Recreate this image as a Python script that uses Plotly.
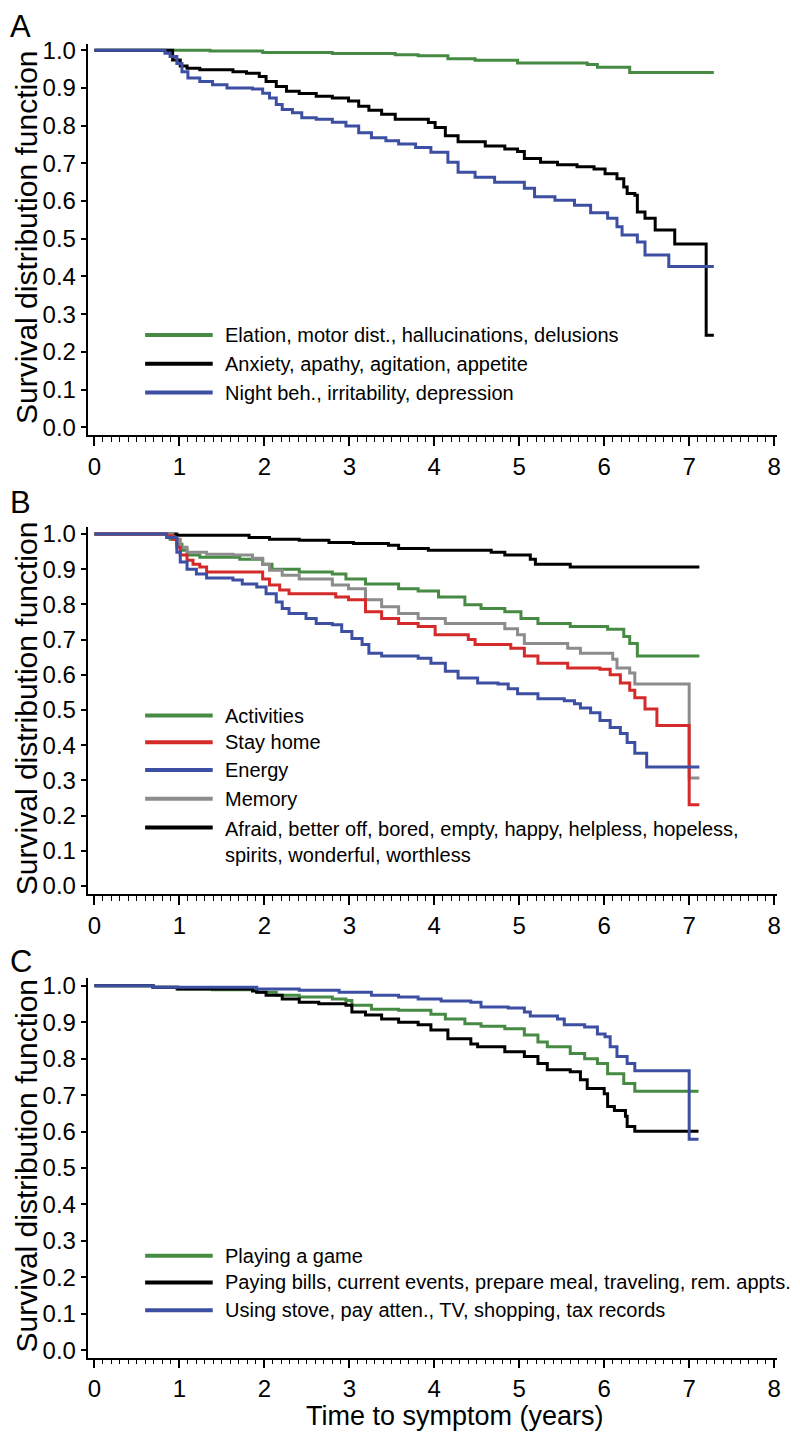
import plotly.graph_objects as go
from plotly.subplots import make_subplots

# page adds an 8px body margin, so the figure is drawn 8px in from the top-left
OFF = 8
W, H = 800 - OFF, 1441 - OFF

# ---- data: survival curves (time in years, survival) ----
# Panel A
a_green_t = [0, 1.36, 1.98, 2.8, 3.54, 3.81, 4.16, 4.48, 4.98, 5.8, 5.92, 6.3, 7.29]
a_green_s = [1.0, 0.998, 0.994, 0.991, 0.988, 0.985, 0.977, 0.973, 0.966, 0.962, 0.955, 0.941, 0.941]

a_black_t = [0, 0.92, 1.01, 1.09, 1.24, 1.63, 1.79, 1.94, 2.02, 2.14, 2.26, 2.41, 2.61, 2.8,
             2.99, 3.11, 3.23, 3.38, 3.54, 3.93, 4.01, 4.13, 4.28, 4.6, 4.83, 4.98, 5.06, 5.25,
             5.45, 5.68, 5.88, 6.01, 6.15, 6.23, 6.27, 6.36, 6.39, 6.48, 6.6, 6.83, 7.2, 7.29]
a_black_s = [1.0, 0.974, 0.958, 0.952, 0.948, 0.943, 0.939, 0.93, 0.917, 0.904, 0.891, 0.885,
             0.878, 0.873, 0.865, 0.851, 0.841, 0.83, 0.817, 0.808, 0.795, 0.773, 0.757, 0.746,
             0.738, 0.731, 0.713, 0.703, 0.696, 0.691, 0.685, 0.672, 0.659, 0.637, 0.62, 0.615,
             0.571, 0.554, 0.523, 0.486, 0.244, 0.244]

a_blue_t = [0, 0.83, 0.89, 0.97, 1.03, 1.1, 1.24, 1.39, 1.56, 1.86, 1.98, 2.06, 2.14, 2.21,
            2.33, 2.44, 2.61, 2.8, 2.96, 3.11, 3.26, 3.43, 3.58, 3.78, 3.96, 4.16, 4.28, 4.48,
            4.71, 5.06, 5.18, 5.42, 5.65, 5.84, 6.04, 6.15, 6.21, 6.39, 6.48, 6.76, 7.29]
a_blue_s = [1.0, 0.992, 0.983, 0.965, 0.943, 0.926, 0.917, 0.908, 0.9, 0.897, 0.886, 0.873,
            0.856, 0.843, 0.834, 0.821, 0.817, 0.809, 0.799, 0.781, 0.768, 0.76, 0.751, 0.742,
            0.729, 0.703, 0.676, 0.663, 0.65, 0.634, 0.611, 0.602, 0.589, 0.569, 0.554, 0.532,
            0.51, 0.491, 0.457, 0.426, 0.426]

# Panel B
b_green_t = [0, 0.89, 0.97, 1.03, 1.09, 1.24, 1.71, 1.98, 2.09, 2.41, 2.8, 2.96, 3.19, 3.58,
             3.81, 4.05, 4.36, 4.55, 4.83, 5.02, 5.22, 5.6, 6.04, 6.23, 6.3, 6.39, 7.12]
b_green_s = [1.0, 0.985, 0.971, 0.954, 0.94, 0.934, 0.928, 0.914, 0.9, 0.892, 0.886, 0.872,
             0.858, 0.844, 0.838, 0.821, 0.799, 0.788, 0.779, 0.76, 0.746, 0.737, 0.729, 0.709,
             0.689, 0.653, 0.653]

b_red_t = [0, 0.85, 0.92, 0.97, 1.01, 1.09, 1.16, 1.24, 1.32, 1.98, 2.06, 2.18, 2.29, 2.84,
           2.99, 3.19, 3.38, 3.58, 3.81, 4.01, 4.4, 4.48, 4.9, 5.06, 5.22, 5.57, 5.95, 6.07,
           6.19, 6.3, 6.36, 6.48, 6.62, 7.0, 7.12]
b_red_s = [1.0, 0.995, 0.985, 0.962, 0.94, 0.925, 0.914, 0.906, 0.892, 0.872, 0.855, 0.841,
           0.83, 0.821, 0.813, 0.779, 0.76, 0.746, 0.737, 0.714, 0.7, 0.686, 0.675, 0.653,
           0.633, 0.619, 0.616, 0.6, 0.577, 0.556, 0.535, 0.503, 0.456, 0.231, 0.231]

b_blue_t = [0, 0.85, 0.97, 1.01, 1.09, 1.2, 1.32, 1.63, 1.74, 1.91, 2.02, 2.14, 2.21, 2.29,
            2.49, 2.61, 2.8, 2.91, 3.03, 3.15, 3.23, 3.38, 3.81, 3.96, 4.13, 4.28, 4.51, 4.75,
            4.87, 4.98, 5.22, 5.53, 5.65, 5.72, 5.84, 5.95, 6.07, 6.19, 6.27, 6.36, 6.5, 7.12]
b_blue_s = [1.0, 0.99, 0.948, 0.92, 0.9, 0.886, 0.875, 0.869, 0.858, 0.849, 0.83, 0.807,
            0.788, 0.774, 0.76, 0.746, 0.742, 0.723, 0.703, 0.686, 0.661, 0.653, 0.647, 0.633,
            0.61, 0.591, 0.577, 0.574, 0.56, 0.546, 0.532, 0.526, 0.518, 0.506, 0.492, 0.47,
            0.45, 0.433, 0.408, 0.377, 0.338, 0.338]

b_gray_t = [0, 0.92, 1.01, 1.09, 1.32, 1.63, 1.86, 1.98, 2.06, 2.21, 2.41, 2.8, 2.99, 3.19,
            3.38, 3.58, 3.81, 4.13, 4.83, 4.98, 5.06, 5.57, 5.72, 6.1, 6.15, 6.3, 6.36, 7.0, 7.12]
b_gray_s = [1.0, 0.985, 0.962, 0.948, 0.942, 0.94, 0.931, 0.914, 0.897, 0.883, 0.872, 0.855,
            0.844, 0.813, 0.793, 0.774, 0.76, 0.746, 0.731, 0.714, 0.689, 0.675, 0.661, 0.644,
            0.619, 0.605, 0.574, 0.307, 0.307]

b_black_t = [0, 0.97, 1.82, 2.06, 2.41, 2.76, 3.05, 3.46, 3.58, 3.93, 4.67, 4.83, 5.13, 5.19,
             5.6, 7.12]
b_black_s = [1.0, 0.996, 0.99, 0.985, 0.982, 0.976, 0.973, 0.968, 0.959, 0.954, 0.948, 0.94,
             0.928, 0.914, 0.906, 0.906]

# Panel C
c_green_t = [0, 0.69, 0.97, 1.39, 1.91, 2.14, 2.41, 2.8, 2.96, 3.03, 3.26, 3.58, 3.96, 4.13,
             4.36, 4.55, 4.83, 5.06, 5.22, 5.33, 5.6, 5.77, 5.92, 6.04, 6.23, 6.36, 7.11]
c_green_s = [1.0, 0.996, 0.991, 0.989, 0.982, 0.974, 0.969, 0.964, 0.96, 0.947, 0.936, 0.933,
             0.922, 0.909, 0.896, 0.889, 0.882, 0.865, 0.846, 0.833, 0.814, 0.8, 0.787, 0.759,
             0.732, 0.711, 0.711]

c_black_t = [0, 0.69, 0.98, 1.86, 1.91, 2.02, 2.21, 2.41, 2.64, 2.96, 3.03, 3.19, 3.38, 3.58,
             3.81, 3.96, 4.16, 4.43, 4.51, 4.83, 5.06, 5.22, 5.33, 5.6, 5.72, 5.8, 6.0, 6.04,
             6.12, 6.25, 6.27, 6.36, 7.11]
c_black_s = [1.0, 0.996, 0.991, 0.986, 0.982, 0.974, 0.964, 0.955, 0.951, 0.947, 0.928, 0.92,
             0.909, 0.9, 0.893, 0.879, 0.855, 0.84, 0.833, 0.819, 0.806, 0.787, 0.77, 0.764,
             0.742, 0.718, 0.704, 0.669, 0.658, 0.642, 0.614, 0.601, 0.601]

c_blue_t = [0, 0.69, 1.91, 2.41, 2.88, 3.26, 3.58, 3.81, 4.08, 4.43, 4.55, 4.87, 5.06, 5.13,
            5.45, 5.53, 5.77, 5.92, 6.01, 6.07, 6.15, 6.27, 6.36, 7.0, 7.11]
c_blue_s = [1.0, 0.996, 0.991, 0.988, 0.982, 0.974, 0.969, 0.964, 0.958, 0.955, 0.942, 0.939,
            0.928, 0.917, 0.909, 0.893, 0.887, 0.868, 0.86, 0.833, 0.806, 0.787, 0.767, 0.579,
            0.579]

a_labels = ["Elation, motor dist., hallucinations, delusions",
            "Anxiety, apathy, agitation, appetite",
            "Night beh., irritability, depression"]
b_labels = ["Activities", "Stay home", "Energy", "Memory",
            "Afraid, better off, bored, empty, happy, helpless, hopeless,<br>spirits, wonderful, worthless"]
c_labels = ["Playing a game",
            "Paying bills, current events, prepare meal, traveling, rem. appts.",
            "Using stove, pay atten., TV, shopping, tax records"]

panel_letters = ["A", "B", "C"]
y_title = "Survival distribution function"
x_title = "Time to symptom (years)"

GREEN = "#468a43"
BLACK = "#000000"
BLUE = "#3d4fa3"
RED = "#d42a2a"
GRAY = "#8c8c8c"
FONT = "Liberation Sans, Arial, sans-serif"


def px(x):
    # page pixel -> paper fraction
    return (x - OFF) / W


def py(y):
    return 1 - (y - OFF) / H


panels = [
    dict(curves=[(a_green_t, a_green_s, GREEN), (a_black_t, a_black_s, BLACK), (a_blue_t, a_blue_s, BLUE)],
         legend=[(a_labels[0], GREEN), (a_labels[1], BLACK), (a_labels[2], BLUE)],
         top=37, bottom=432, y1=43.5, y0=424, rows=[331, 360, 389], letter_y=20),
    dict(curves=[(b_black_t, b_black_s, BLACK), (b_green_t, b_green_s, GREEN), (b_gray_t, b_gray_s, GRAY),
                 (b_red_t, b_red_s, RED), (b_blue_t, b_blue_s, BLUE)],
         legend=[(b_labels[0], GREEN), (b_labels[1], RED), (b_labels[2], BLUE), (b_labels[3], GRAY),
                 (b_labels[4], BLACK)],
         top=525, bottom=895, y1=531.7, y0=887, rows=[715, 742, 770, 799, 828], letter_y=500),
    dict(curves=[(c_green_t, c_green_s, GREEN), (c_black_t, c_black_s, BLACK), (c_blue_t, c_blue_s, BLUE)],
         legend=[(c_labels[0], GREEN), (c_labels[1], BLACK), (c_labels[2], BLUE)],
         top=980, bottom=1363, y1=987.7, y0=1355.5, rows=[1260, 1287, 1315], letter_y=963),
]

fig = make_subplots(rows=3, cols=1)

X_LEFT, X_RIGHT = 88, 781
X0_PX, PX_PER_YEAR = 94, 85.5
x_range = [(X_LEFT - X0_PX) / PX_PER_YEAR, (X_RIGHT - X0_PX) / PX_PER_YEAR]

annotations = []
shapes = []
for i, p in enumerate(panels):
    row = i + 1
    for t, s, color in p["curves"]:
        fig.add_trace(go.Scatter(x=t, y=s, mode="lines", line=dict(color=color, width=3, shape="hv"),
                                 showlegend=False, hoverinfo="skip"), row=row, col=1)

    per_unit = p["y0"] - p["y1"]
    y_range = [-(p["bottom"] - p["y0"]) / per_unit, 1 + (p["y1"] - p["top"]) / per_unit]
    fig.update_yaxes(domain=[py(p["bottom"]), py(p["top"])], range=y_range,
                     tickmode="linear", tick0=0, dtick=0.1, tickformat=".1f",
                     ticks="outside", ticklen=6, tickwidth=1.5, tickcolor="black",
                     showline=True, linecolor="black", linewidth=1.5, showgrid=False, zeroline=False,
                     tickfont=dict(size=24, color="black", family=FONT), row=row, col=1)
    fig.update_xaxes(domain=[px(X_LEFT), px(X_RIGHT)], range=x_range,
                     tickmode="linear", tick0=0, dtick=1,
                     ticks="outside", ticklen=9, tickwidth=1.5, tickcolor="black",
                     minor=dict(dtick=0.1, ticks="outside", ticklen=5, tickwidth=1, tickcolor="black"),
                     showline=True, linecolor="black", linewidth=1.5, showgrid=False, zeroline=False,
                     tickfont=dict(size=24, color="black", family=FONT), row=row, col=1)

    # legend drawn inside the panel
    for k, (label, color) in enumerate(p["legend"]):
        yy = p["rows"][k]
        shapes.append(dict(type="line", xref="paper", yref="paper", x0=px(145), x1=px(213),
                           y0=py(yy), y1=py(yy), line=dict(color=color, width=4)))
        multi = "<br>" in label
        annotations.append(dict(text=label, xref="paper", yref="paper", x=px(223),
                                y=py(yy - 12) if multi else py(yy), xanchor="left",
                                yanchor="top" if multi else "middle", align="left", showarrow=False,
                                font=dict(size=20, color="black", family=FONT)))

    annotations.append(dict(text=y_title, xref="paper", yref="paper", x=0,
                            y=py((p["top"] + p["bottom"]) / 2 - 2), textangle=-90, showarrow=False,
                            xanchor="left", yanchor="middle", borderpad=0,
                            font=dict(size=30, color="black", family=FONT)))
    annotations.append(dict(text=panel_letters[i], xref="paper", yref="paper", x=0,
                            y=py(p["letter_y"]), showarrow=False, xanchor="left", yanchor="middle",
                            borderpad=0, font=dict(size=31, color="black", family=FONT)))

annotations.append(dict(text=x_title, xref="paper", yref="paper", x=px(457), y=py(1422),
                        showarrow=False, xanchor="center", yanchor="middle",
                        font=dict(size=27, color="black", family=FONT)))

fig.update_layout(width=W, height=H, margin=dict(l=0, r=0, t=0, b=0),
                  plot_bgcolor="white", paper_bgcolor="white",
                  annotations=annotations, shapes=shapes, showlegend=False,
                  font=dict(family=FONT, color="black"))

fig.write_html("out.html")
